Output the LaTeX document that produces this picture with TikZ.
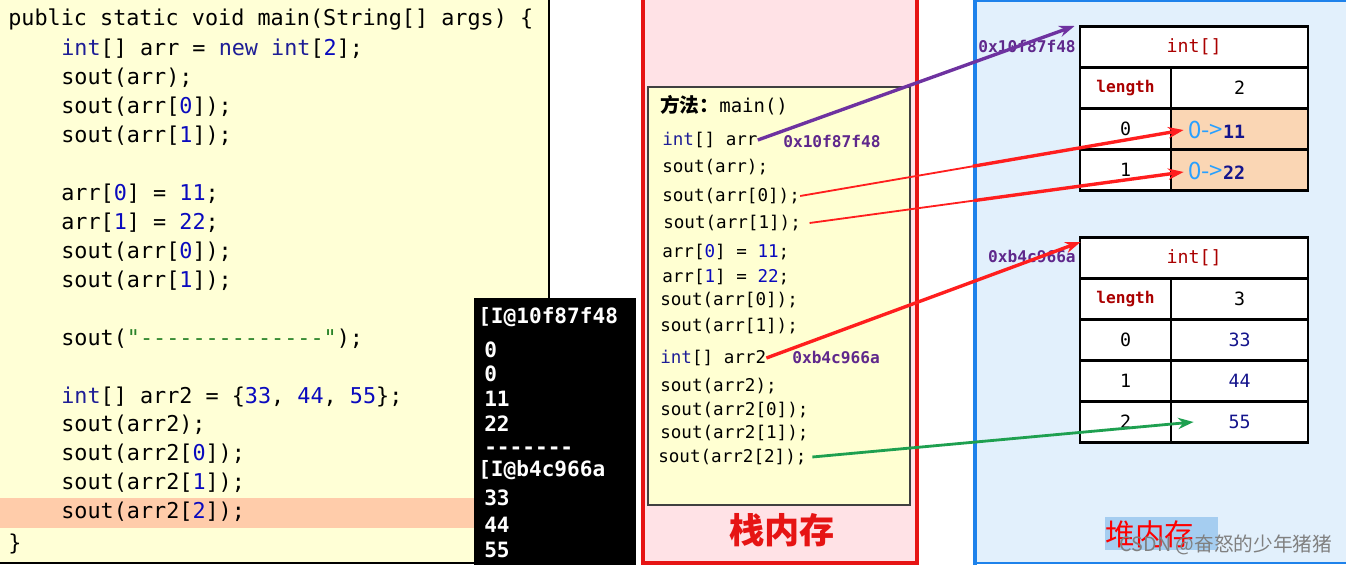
\documentclass[tikz,border=0pt]{standalone}
\usepackage{fontspec}
\setmonofont{DejaVu Sans Mono}
\newfontfamily\cjk{Noto Sans CJK SC}
\usetikzlibrary{arrows.meta,calc}

\definecolor{codebg}{RGB}{255,255,214}
\definecolor{hlrow}{RGB}{255,204,170}
\definecolor{kw}{RGB}{30,30,150}
\definecolor{num}{RGB}{10,10,190}
\definecolor{strg}{RGB}{40,130,40}
\definecolor{stackbg}{RGB}{255,226,230}
\definecolor{stackred}{RGB}{230,20,20}
\definecolor{framebg}{RGB}{255,255,210}
\definecolor{heapbg}{RGB}{226,240,252}
\definecolor{heapblue}{RGB}{30,130,235}
\definecolor{selblue}{RGB}{165,205,240}
\definecolor{addrpurple}{RGB}{95,40,140}
\definecolor{hdrred}{RGB}{170,0,0}
\definecolor{cellfill}{RGB}{250,214,180}
\definecolor{zeroblue}{RGB}{40,160,255}
\definecolor{navy}{RGB}{20,20,140}
\definecolor{arrowpurple}{RGB}{110,50,160}
\definecolor{arrowred}{RGB}{255,30,30}
\definecolor{arrowgreen}{RGB}{30,160,80}

\newcommand\ckw[1]{\textcolor{kw}{#1}}
\newcommand\cnum[1]{\textcolor{num}{#1}}

\tikzset{
  codeline/.style={
    anchor=west,
    inner sep=0pt,
    font=\ttfamily\fontsize{15.5}{18}\selectfont
  },
  stackline/.style={
    anchor=west,
    inner sep=0pt,
    font=\ttfamily\fontsize{12.5}{15}\selectfont
  },
  outline/.style={
    anchor=west,
    inner sep=0pt,
    text=white,
    font=\ttfamily\bfseries\fontsize{15}{18}\selectfont
  },
  addr/.style={
    inner sep=0pt,
    text=addrpurple,
    font=\ttfamily\bfseries\fontsize{11.5}{14}\selectfont
  },
  cell/.style={
    draw,
    line width=2pt,
    fill=white,
    minimum height=1.03cm,
    inner sep=0pt,
    font=\ttfamily\fontsize{13}{15}\selectfont
  },
  keycell/.style={cell, minimum width=2.275cm},
  valcell/.style={cell, minimum width=3.425cm},
  hdrcell/.style={cell, minimum width=5.7cm, text=hdrred},
  lenlabel/.style={text=hdrred, font=\ttfamily\bfseries\fontsize{11.5}{14}\selectfont},
  refarrow/.style={-{Stealth[length=11pt,width=8pt]}, line width=2.4pt}
}

\begin{document}
\begin{tikzpicture}[x=0.025cm, y=-0.025cm]
    \useasboundingbox (0,0) rectangle (1346,565);

    % code panel
    \fill[codebg] (0,0) rectangle (549,563);
    \fill[hlrow] (0,498) rectangle (474,528);
    \draw[line width=0.8pt] (549,0) -- (549,298);
    \draw[line width=0.8pt] (0,563) -- (474,563);
    \node[codeline] (c1) at (8,20) {public static void main(String[] args) \{};
    \node[codeline] (c2) at (61,49) {\ckw{int}[] arr = \ckw{new} \ckw{int}[\cnum{2}];};
    \node[codeline] (c3) at (61,78) {sout(arr);};
    \node[codeline] (c4) at (61,107) {sout(arr[\cnum{0}]);};
    \node[codeline] (c5) at (61,136) {sout(arr[\cnum{1}]);};
    \node[codeline] (c6) at (61,194) {arr[\cnum{0}] = \cnum{11};};
    \node[codeline] (c7) at (61,223) {arr[\cnum{1}] = \cnum{22};};
    \node[codeline] (c8) at (61,252) {sout(arr[\cnum{0}]);};
    \node[codeline] (c9) at (61,281) {sout(arr[\cnum{1}]);};
    \node[codeline] (c10) at (61,339) {sout(\textcolor{strg}{"--------------"});};
    \node[codeline] (c11) at (61,397) {\ckw{int}[] arr2 = \{\cnum{33}, \cnum{44}, \cnum{55}\};};
    \node[codeline] (c12) at (61,425) {sout(arr2);};
    \node[codeline] (c13) at (61,454) {sout(arr2[\cnum{0}]);};
    \node[codeline] (c14) at (61,483) {sout(arr2[\cnum{1}]);};
    \node[codeline] (c15) at (61,512) {sout(arr2[\cnum{2}]);};
    \node[codeline] (c16) at (8,544) {\}};

    % console output
    \fill[black] (474,298) rectangle (636,565);
    \node[outline] (o1) at (478,317) {[I@10f87f48};
    \node[outline] (o2) at (484,350) {0};
    \node[outline] (o3) at (484,374) {0};
    \node[outline] (o4) at (484,399) {11};
    \node[outline] (o5) at (484,424) {22};
    \node[outline, text height=7pt, text depth=0pt] (o6) at (484,450) {-------};
    \node[outline] (o7) at (478,470) {[I@b4c966a};
    \node[outline] (o8) at (484,498) {33};
    \node[outline] (o9) at (484,525) {44};
    \node[outline] (o10) at (484,550) {55};

    % stack
    \filldraw[fill=stackbg, draw=stackred, line width=2.2pt] (643,-5) rectangle (917,563);
    \filldraw[fill=framebg, draw=black!75, line width=0.8pt] (648,87) rectangle (910,505);
    \node[stackline] (s0) at (660,105) {{\cjk\bfseries\fontsize{14}{16}\selectfont 方法：}{\fontsize{13.5}{16}\selectfont main()}};
    \node[stackline] (s1) at (662,140) {\ckw{int}[] arr};
    \node[stackline] (s2) at (662,167) {sout(arr);};
    \node[stackline] (s3) at (662,196) {sout(arr[0]);};
    \node[stackline] (s4) at (663,223) {sout(arr[1]);};
    \node[stackline] (s5) at (662,252) {arr[\cnum{0}] = \cnum{11};};
    \node[stackline] (s6) at (662,277) {arr[\cnum{1}] = \cnum{22};};
    \node[stackline] (s7) at (660,300) {sout(arr[0]);};
    \node[stackline] (s8) at (660,326) {sout(arr[1]);};
    \node[stackline] (s9) at (660,358) {\ckw{int}[] arr2};
    \node[stackline] (s10) at (660,386) {sout(arr2);};
    \node[stackline] (s11) at (660,410) {sout(arr2[0]);};
    \node[stackline] (s12) at (660,433) {sout(arr2[1]);};
    \node[stackline] (s13) at (658,457) {sout(arr2[2]);};
    \node[addr, anchor=west] (sa1) at (783,141) {0x10f87f48};
    \node[addr, anchor=west] (sa2) at (792,358) {0xb4c966a};
    \node[text=stackred, font=\cjk\bfseries\fontsize{25}{25}\selectfont] (stackname) at (782,530) {栈内存};

    % heap
    \filldraw[fill=heapbg, draw=heapblue, line width=1.2pt] (975,1) rectangle (1352,563);
    \draw[heapblue, line width=2.6pt] (975,0) -- (975,565);

    % first array
    \node[hdrcell] (ta-hdr) at (1194,47) {int[]};
    \node[keycell] (ta-len) at (1125.5,88) {};
    \node[lenlabel] at (ta-len) {length};
    \node[valcell] (ta-n) at (1239.5,88) {2};
    \node[keycell] (ta-k0) at (1125.5,129) {0};
    \node[valcell, fill=cellfill] (ta-v0) at (1239.5,129) {};
    \node[keycell] (ta-k1) at (1125.5,170) {1};
    \node[valcell, fill=cellfill] (ta-v1) at (1239.5,170) {};
    \node[anchor=west, inner sep=0pt] at (1188,130) {{\cjk\fontsize{17}{17}\selectfont\color{zeroblue}0->}{\ttfamily\bfseries\fontsize{13}{15}\selectfont\color{navy}11}};
    \node[anchor=west, inner sep=0pt] at (1188,171) {{\cjk\fontsize{17}{17}\selectfont\color{zeroblue}0->}{\ttfamily\bfseries\fontsize{13}{15}\selectfont\color{navy}22}};
    \node[addr, anchor=east] (ha1) at (1076,46) {0x10f87f48};

    % second array
    \node[hdrcell] (tb-hdr) at (1194,258) {int[]};
    \node[keycell] (tb-len) at (1125.5,299) {};
    \node[lenlabel] at (tb-len) {length};
    \node[valcell] (tb-n) at (1239.5,299) {3};
    \foreach \i/\v/\y in {0/33/340, 1/44/381, 2/55/422} {
        \node[keycell] (tb-k\i) at (1125.5,\y) {\i};
        \node[valcell, text=navy] (tb-v\i) at (1239.5,\y) {\v};
    }
    \node[addr, anchor=east] (ha2) at (1076,257) {0xb4c966a};

    \fill[selblue] (1105,517) rectangle (1218,550);
    \node[text=red, font=\cjk\fontsize{21}{21}\selectfont] (heapname) at (1150,534) {堆内存};
    \node[text=gray, font=\cjk\fontsize{14}{14}\selectfont] (mark) at (1226,545) {CSDN @奋怒的少年猪猪};

    % references
    \coordinate (t0) at ([shift={(14,1)}]ta-v0.west);
    \coordinate (t1) at ([shift={(14,2)}]ta-v1.west);
    \draw[refarrow, arrowpurple] (s1.east) -- ([shift={(-4,1)}]ta-hdr.north west);
    \draw[arrowred, line width=1.3pt] (s3.east) -- ($(s3.east)!0.45!(t0)$);
    \draw[refarrow, arrowred] ($(s3.east)!0.45!(t0)$) -- (t0);
    \draw[arrowred, line width=1.3pt] ([xshift=6pt]s4.east) -- ($([xshift=6pt]s4.east)!0.44!(t1)$);
    \draw[refarrow, arrowred] ($([xshift=6pt]s4.east)!0.44!(t1)$) -- (t1);
    \draw[refarrow, arrowred] (s9.east) -- ([shift={(2,6)}]tb-hdr.north west);
    \draw[refarrow, arrowgreen, line width=2pt] ([xshift=4pt]s13.east) -- ([shift={(24,0)}]tb-v2.west);
\end{tikzpicture}
\end{document}
